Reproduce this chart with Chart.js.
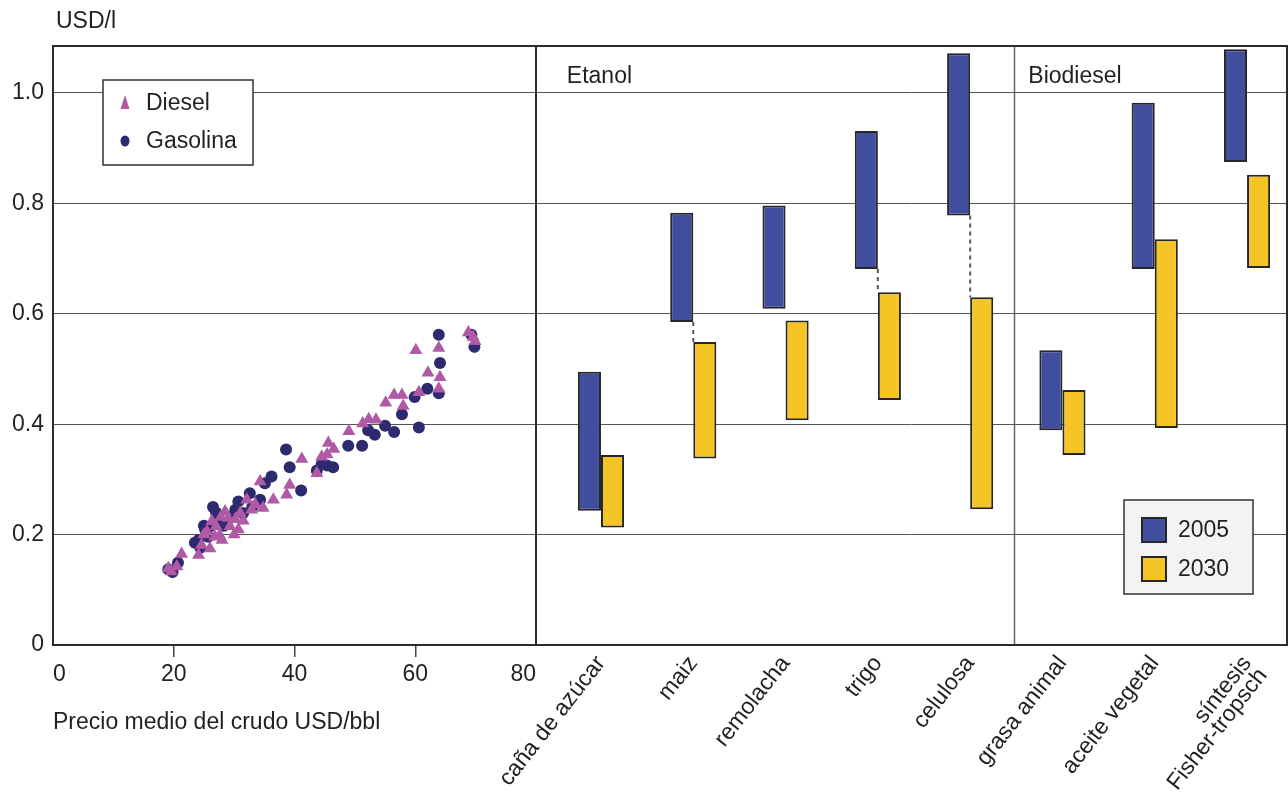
<!DOCTYPE html>
<html>
<head>
<meta charset="utf-8">
<title>Coste de biocombustibles</title>
<script src="https://cdn.jsdelivr.net/npm/chart.js@4.4.1/dist/chart.umd.min.js"></script>
<style>
  body { margin: 0; background: #fff; }
  #wrap { position: relative; width: 1288px; height: 794px; }
  #wrap canvas { position: absolute; left: 0; top: 0; }
</style>
</head>
<body>
<div id="wrap">
  <canvas id="crudeChart" width="1288" height="794"></canvas>
  <canvas id="bioChart" width="1288" height="794"></canvas>
</div>
<script>
// ========== DATA ==========
const yTicks = [0, 0.2, 0.4, 0.6, 0.8, 1.0];
const priceTicks = [0, 20, 40, 60, 80];

// crude price (USD/bbl) vs fuel cost (USD/l)
const dieselPrice = [19.1, 19.6, 20.5, 21.3, 24.1, 24.6, 25.0, 25.5, 26.0, 26.3, 26.8, 27.0, 27.6, 27.8, 28.0,
  28.5, 29.0, 29.3, 30.0, 30.2, 30.7, 31.0, 31.5, 32.1, 32.9, 33.5, 34.3, 34.8, 36.5, 38.7, 39.2, 41.2,
  43.7, 44.5, 45.4, 45.6, 46.5, 49.0, 51.3, 52.3, 53.5, 55.1, 56.5, 57.8, 58.0, 60.1, 60.6, 62.1, 63.9,
  64.1, 63.9, 68.8, 69.6, 69.9];
const dieselCost = [0.139, 0.133, 0.142, 0.165, 0.163, 0.181, 0.200, 0.205, 0.175, 0.224, 0.196, 0.215, 0.199, 0.232, 0.190,
  0.242, 0.230, 0.215, 0.200, 0.228, 0.209, 0.239, 0.225, 0.263, 0.245, 0.255, 0.296, 0.248, 0.263, 0.272, 0.290, 0.337,
  0.311, 0.341, 0.345, 0.366, 0.355, 0.387, 0.401, 0.409, 0.408, 0.439, 0.453, 0.453, 0.433, 0.534, 0.458, 0.493, 0.464,
  0.485, 0.538, 0.566, 0.558, 0.550];
const gasolinaPrice = [19.1, 19.8, 20.7, 23.5, 24.1, 24.4, 25.0, 25.2, 25.7, 26.0, 26.5, 27.0, 27.4, 28.3, 28.8,
  29.6, 30.2, 30.7, 31.5, 32.6, 33.0, 34.3, 35.1, 36.2, 38.6, 39.2, 41.1, 43.7, 44.5, 45.4, 46.4, 48.9,
  51.2, 52.2, 53.3, 55.0, 56.5, 57.8, 59.9, 60.6, 62.0, 63.9, 64.1, 63.9, 69.3, 69.8];
const gasolinaCost = [0.137, 0.132, 0.149, 0.185, 0.190, 0.176, 0.216, 0.209, 0.196, 0.215, 0.250, 0.240, 0.227, 0.216, 0.222,
  0.233, 0.245, 0.260, 0.239, 0.275, 0.250, 0.263, 0.293, 0.305, 0.354, 0.322, 0.280, 0.316, 0.328, 0.325, 0.322, 0.361,
  0.361, 0.389, 0.381, 0.397, 0.386, 0.418, 0.449, 0.394, 0.464, 0.456, 0.511, 0.562, 0.562, 0.540];

// biofuel cost ranges (USD/l)
const categories = ["caña de azúcar", "maiz", "remolacha", "trigo", "celulosa",
  "grasa animal", "aceite vegetal", ["síntesis", "Fisher-tropsch"]];
const low2005 = [0.243, 0.585, 0.609, 0.681, 0.778, 0.389, 0.681, 0.875];
const high2005 = [0.495, 0.783, 0.796, 0.931, 1.072, 0.534, 0.982, 1.079];
const low2030 = [0.213, 0.338, 0.407, 0.444, 0.246, 0.344, 0.393, 0.683];
const high2030 = [0.344, 0.549, 0.588, 0.639, 0.630, 0.462, 0.735, 0.852];
const linkedCategories = [1, 3, 4]; // dashed line from 2005 bar down to 2030 bar
const groupNames = ["Etanol", "Biodiesel"];
const groupFirst = [0, 5];

// ========== SHARED STYLE ==========
const INK = "#231f20";
const FONT = { size: 23 };
Chart.defaults.font.family = '"Liberation Sans", Arial, sans-serif';
Chart.defaults.font.size = 23;
Chart.defaults.color = INK;

const Y_MAX = 1.085;
const AXIS_HEIGHT = 149;

function fixedTicks(values) {
  return (scale) => {
    scale.ticks = values.map((v) => ({ value: v }));
  };
}

function bottomAxisFit(scale) {
  scale.height = AXIS_HEIGHT;
  scale.paddingLeft = 0;
  scale.paddingRight = 0;
}

// ========== PLUGINS ==========
const framePlugin = {
  id: "frame",
  afterDatasetsDraw(chart, args, opts) {
    const { ctx, chartArea: a } = chart;
    ctx.save();
    ctx.strokeStyle = opts.color;
    ctx.lineWidth = opts.width;
    ctx.strokeRect(a.left, a.top, a.right - a.left, a.bottom - a.top);
    ctx.restore();
  },
};

function drawSymbol(ctx, ds, x, y, opts) {
  ctx.fillStyle = ds.backgroundColor;
  ctx.beginPath();
  if (ds.pointStyle === "triangle") {
    ctx.moveTo(x, y - 8);
    ctx.lineTo(x + 4.5, y + 6);
    ctx.lineTo(x - 4.5, y + 6);
    ctx.closePath();
    ctx.fill();
  } else if (ds.pointStyle === "circle") {
    ctx.ellipse(x, y, 4.5, 5.5, 0, 0, Math.PI * 2);
    ctx.fill();
  } else {
    const s = opts.boxSize;
    ctx.rect(x - s / 2, y - s / 2, s, s);
    ctx.fill();
    ctx.strokeStyle = ds.borderColor;
    ctx.lineWidth = 2;
    ctx.stroke();
  }
}

const insetLegend = {
  id: "insetLegend",
  afterDraw(chart, args, opts) {
    const { ctx, chartArea: a } = chart;
    const left = a.left + opts.left;
    const top = a.top + opts.top;
    ctx.save();
    ctx.fillStyle = opts.fill;
    ctx.fillRect(left, top, opts.width, opts.height);
    ctx.strokeStyle = "#333";
    ctx.lineWidth = 1.5;
    ctx.strokeRect(left, top, opts.width, opts.height);
    ctx.font = '23px "Liberation Sans", Arial, sans-serif';
    ctx.textBaseline = "middle";
    chart.data.datasets.forEach((ds, i) => {
      const y = top + opts.firstRow + i * opts.rowGap;
      drawSymbol(ctx, ds, left + opts.symbolX, y, opts);
      ctx.fillStyle = INK;
      ctx.fillText(ds.label, left + opts.textX, y + 1);
    });
    ctx.restore();
  },
};

const unitLabel = {
  id: "unitLabel",
  afterDraw(chart, args, opts) {
    const { ctx, chartArea: a } = chart;
    ctx.save();
    ctx.font = '23px "Liberation Sans", Arial, sans-serif';
    ctx.fillStyle = INK;
    ctx.textBaseline = "middle";
    ctx.fillText(opts.text, a.left + 3, a.top - 24);
    ctx.restore();
  },
};

const groupDecor = {
  id: "groupDecor",
  beforeDatasetsDraw(chart) {
    const { ctx, chartArea: a, scales } = chart;
    ctx.save();
    ctx.strokeStyle = "#666";
    ctx.lineWidth = 1.5;
    groupFirst.forEach((first) => {
      if (first === 0) return;
      const x = Math.round(scales.x.getPixelForValue(first + 1 - 0.52)) + 0.5;
      ctx.beginPath();
      ctx.moveTo(x, a.top);
      ctx.lineTo(x, a.bottom);
      ctx.stroke();
    });
    // dashed links between the two periods
    ctx.setLineDash([4, 4]);
    ctx.strokeStyle = "#555";
    ctx.lineWidth = 2;
    linkedCategories.forEach((i) => {
      const x = scales.x.getPixelForValue(i + 1);
      ctx.beginPath();
      ctx.moveTo(x, scales.y.getPixelForValue(low2005[i]));
      ctx.lineTo(x, scales.y.getPixelForValue(high2030[i]));
      ctx.stroke();
    });
    ctx.restore();
  },
  afterDraw(chart) {
    const { ctx, chartArea: a, scales } = chart;
    ctx.save();
    ctx.font = '23px "Liberation Sans", Arial, sans-serif';
    ctx.fillStyle = INK;
    ctx.textBaseline = "middle";
    groupNames.forEach((name, g) => {
      ctx.fillText(name, scales.x.getPixelForValue(groupFirst[g] + 1 - 0.37), a.top + 31);
    });
    ctx.restore();
  },
};

// ========== LEFT PANEL: CRUDE PRICE ==========
function toPoints(xs, ys) {
  return xs.map((x, i) => ({ x: x, y: ys[i] }));
}

new Chart(document.getElementById("crudeChart"), {
  type: "scatter",
  data: {
    datasets: [
      {
        label: "Diesel",
        data: toPoints(dieselPrice, dieselCost),
        pointStyle: "triangle",
        pointRadius: 7.5,
        borderWidth: 0,
        backgroundColor: "#b05aa6",
      },
      {
        label: "Gasolina",
        data: toPoints(gasolinaPrice, gasolinaCost),
        pointStyle: "circle",
        pointRadius: 6,
        borderWidth: 0,
        backgroundColor: "#2d2a70",
      },
    ],
  },
  options: {
    responsive: false,
    animation: false,
    events: [],
    layout: { padding: { top: 46, right: 752, left: 0, bottom: 0 } },
    scales: {
      x: {
        type: "linear",
        min: 0,
        max: 80,
        afterBuildTicks: fixedTicks(priceTicks),
        afterFit: bottomAxisFit,
        border: { display: false },
        grid: {
          drawOnChartArea: false,
          tickLength: 12,
          lineWidth: 1.5,
          tickColor: (c) => (c.index === 0 || c.index === priceTicks.length - 1 ? "rgba(0,0,0,0)" : "#444"),
        },
        ticks: { padding: 4, maxRotation: 0, align: "inner", font: FONT },
        title: {
          display: true,
          text: "Precio medio del crudo USD/bbl",
          align: "start",
          font: FONT,
          padding: { top: 0, bottom: 58 },
        },
      },
      y: {
        min: 0,
        max: Y_MAX,
        afterBuildTicks: fixedTicks(yTicks),
        afterFit: (scale) => { scale.width = 53; },
        border: { display: false },
        grid: { color: "#555", lineWidth: 1, drawTicks: false },
        ticks: {
          padding: 9,
          font: FONT,
          callback: (v) => (v === 0 ? "0" : v.toFixed(1)),
        },
      },
    },
    plugins: {
      legend: { display: false },
      tooltip: { enabled: false },
      frame: { color: "#2b2b2b", width: 2 },
      unitLabel: { text: "USD/l" },
      insetLegend: {
        left: 50, top: 34, width: 150, height: 85, fill: "#fff",
        symbolX: 22, textX: 43, firstRow: 23, rowGap: 38, boxSize: 0,
      },
    },
  },
  plugins: [framePlugin, unitLabel, insetLegend],
});

// ========== RIGHT PANEL: BIOFUELS ==========
function toRanges(lows, highs) {
  return lows.map((lo, i) => ({ x: i + 1, y: [lo, highs[i]] }));
}

new Chart(document.getElementById("bioChart"), {
  type: "bar",
  data: {
    datasets: [
      {
        label: "2005",
        data: toRanges(low2005, high2005),
        backgroundColor: "#414e9e",
        borderColor: "#262626",
        borderWidth: 2,
        borderSkipped: false,
        pointStyle: "rect",
        categoryPercentage: 0.5,
        barPercentage: 1,
      },
      {
        label: "2030",
        data: toRanges(low2030, high2030),
        backgroundColor: "#f5c526",
        borderColor: "#262626",
        borderWidth: 2,
        borderSkipped: false,
        pointStyle: "rect",
        categoryPercentage: 0.5,
        barPercentage: 1,
      },
    ],
  },
  options: {
    responsive: false,
    animation: false,
    events: [],
    layout: { padding: { top: 46, right: 1, left: 0, bottom: 0 } },
    scales: {
      x: {
        type: "linear",
        offset: false,
        min: 0.296,
        max: 8.433,
        afterBuildTicks: fixedTicks(categories.map((c, i) => i + 1)),
        afterFit: bottomAxisFit,
        border: { display: false },
        grid: { display: false, drawTicks: false },
        ticks: {
          autoSkip: false,
          minRotation: 52,
          maxRotation: 52,
          padding: 8,
          font: { size: 23, lineHeight: 0.87 },
          callback: (v) => categories[v - 1],
        },
      },
      y: {
        min: 0,
        max: Y_MAX,
        afterBuildTicks: fixedTicks(yTicks),
        afterFit: (scale) => { scale.width = 536; },
        border: { display: false },
        grid: { color: "#555", lineWidth: 1, drawTicks: false },
        ticks: { display: false },
      },
    },
    plugins: {
      legend: { display: false },
      tooltip: { enabled: false },
      frame: { color: "#2b2b2b", width: 2 },
      insetLegend: {
        left: 588, top: 454, width: 129, height: 94, fill: "#f3f3f3",
        symbolX: 30, textX: 54, firstRow: 30, rowGap: 39, boxSize: 24,
      },
    },
  },
  plugins: [groupDecor, framePlugin, insetLegend],
});
</script>
</body>
</html>
